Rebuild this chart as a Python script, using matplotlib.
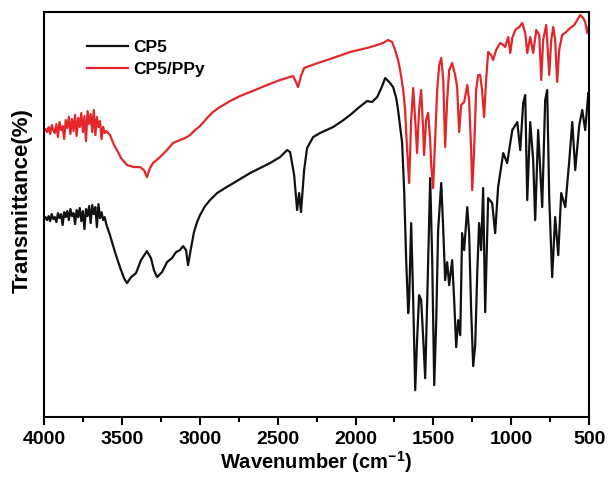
import matplotlib
matplotlib.use('Agg')
import matplotlib.pyplot as plt
from matplotlib.ticker import MultipleLocator

plt.rcParams['font.family'] = ['Liberation Sans', 'DejaVu Sans']
plt.rcParams['mathtext.fontset'] = 'custom'
plt.rcParams['mathtext.rm'] = 'Liberation Sans'
plt.rcParams['mathtext.bf'] = 'Liberation Sans:bold'

# CP5 spectrum (wavenumber in cm-1, transmittance in arbitrary units)
cp5_wn = [4000, 3990, 3980, 3970, 3960, 3950, 3940, 3930, 3920, 3910, 3900, 3890,
          3880, 3870, 3860, 3850, 3840, 3830, 3820, 3810, 3800, 3790, 3780, 3770,
          3760, 3750, 3740, 3730, 3720, 3710, 3700, 3690, 3680, 3670, 3660, 3650,
          3640, 3630, 3620, 3610, 3600,
          3576, 3544, 3512,
          3486, 3467, 3441, 3409, 3377, 3339, 3313, 3294, 3274, 3242, 3210, 3178,
          3152, 3127, 3107, 3088, 3075, 3056, 3037, 3017, 2998, 2966, 2934, 2889,
          2838, 2773, 2677, 2613, 2549, 2484, 2439, 2420, 2394, 2375, 2362, 2350,
          2330, 2311, 2272, 2228, 2144, 2086, 2035, 1983, 1926, 1894, 1861, 1829,
          1810, 1784, 1759, 1739, 1727, 1701, 1688, 1675, 1662, 1656, 1643, 1630,
          1617, 1605, 1592, 1579, 1566, 1553, 1540, 1521, 1508, 1495, 1482, 1470,
          1450, 1437, 1425, 1412, 1399, 1380, 1367, 1354, 1341, 1328, 1316, 1303,
          1283, 1271, 1258, 1245, 1232, 1219, 1207, 1194, 1181, 1168, 1149, 1123,
          1104, 1085, 1052, 1027, 994, 962, 943, 924, 911, 898, 879, 860, 847, 828,
          802, 783, 770, 757, 738, 719, 699, 680, 654, 628, 609, 590, 564, 545,
          526, 506, 500]
cp5_t = [198, 200, 197, 201, 196, 203, 198, 200, 195, 204, 199, 203,
         192, 205, 200, 206, 197, 208, 201, 204, 193, 207, 200, 209,
         196, 206, 188, 208, 201, 211, 194, 212, 203, 210, 190, 213,
         199, 205, 197, 200, 193,
         182, 165, 150,
         139, 134, 140, 144, 157, 166, 159, 147, 140, 145, 155, 159,
         165, 167, 171, 167, 152, 169, 185, 195, 202, 211, 217, 224,
         229, 235, 244, 249, 254, 260, 267, 265, 242, 207, 224, 205,
         247, 269, 280, 284, 290, 296, 302, 309, 316, 315, 320, 331,
         339, 335, 330, 319, 307, 274, 227, 157, 104, 117, 194, 117,
         27, 77, 122, 117, 80, 39, 117, 239, 157, 32, 97, 187,
         234, 187, 137, 155, 132, 157, 117, 70, 97, 82, 184, 167,
         210, 184, 107, 51, 72, 144, 194, 167, 229, 105, 219, 214,
         184, 230, 264, 254, 287, 295, 267, 314, 322, 217, 295, 257, 197, 287,
         210, 317, 327, 220, 140, 200, 162, 224, 210, 257, 295, 247, 292, 307,
         287, 324, 317]

# CP5/PPy spectrum
ppy_wn = [4000, 3990, 3980, 3970, 3960, 3950, 3940, 3930, 3920, 3910, 3900, 3890,
          3880, 3870, 3860, 3850, 3840, 3830, 3820, 3810, 3800, 3790, 3780, 3770,
          3760, 3750, 3740, 3730, 3720, 3710, 3700, 3690, 3680, 3670, 3660, 3650,
          3640, 3630, 3620, 3610, 3600,
          3576, 3550,
          3531, 3505, 3467, 3422, 3383, 3358, 3339, 3319, 3300, 3255, 3210, 3172,
          3127, 3094, 3062, 3030, 2998, 2953, 2915, 2870, 2805, 2741, 2645, 2568,
          2484, 2401, 2382, 2369, 2350, 2330, 2260, 2144, 2035, 1926, 1861, 1823,
          1791, 1765, 1746, 1727, 1714, 1694, 1682, 1669, 1656, 1643, 1630, 1617,
          1605, 1592, 1579, 1566, 1560, 1547, 1534, 1521, 1515, 1502, 1489, 1476,
          1463, 1450, 1437, 1425, 1412, 1399, 1380, 1361, 1348, 1335, 1322, 1303,
          1283, 1271, 1258, 1251, 1239, 1226, 1213, 1200, 1188, 1175, 1162, 1149,
          1130, 1117, 1098, 1072, 1052, 1040, 1020, 1007, 994, 975, 949, 930, 911,
          898, 879, 860, 840, 821, 808, 796, 776, 757, 744, 731, 719, 706, 693,
          674, 648, 622, 596, 577, 558, 539, 526, 513, 500]
ppy_t = [286, 288, 285, 290, 283, 292, 287, 284, 293, 280, 295, 287,
         291, 278, 297, 289, 300, 283, 298, 286, 302, 281, 299, 290,
         304, 285, 301, 276, 306, 293, 303, 285, 307, 282, 300, 290,
         296, 278, 290, 284, 286,
         282, 272,
         267, 259, 252, 250, 250, 247, 240, 249, 254, 260, 267, 274,
         277, 279, 282, 287, 291, 299, 305, 310, 316, 321, 327, 332,
         337, 341, 335, 330, 341, 349, 353, 359, 365, 369, 372, 374,
         377, 375, 367, 357, 347, 327, 307, 267, 234, 297, 329, 297,
         264, 307, 327, 287, 262, 297, 304, 277, 254, 229, 277, 327,
         352, 359, 337, 270, 317, 347, 354, 342, 330, 285, 312, 315,
         332, 317, 267, 227, 267, 327, 342, 342, 327, 300, 337, 365,
         362, 357, 367, 374, 372, 370, 380, 364, 379, 387, 390, 394, 384,
         364, 380, 364, 387, 382, 337, 377, 392, 342, 377, 390, 377, 335, 367,
         382, 385, 389, 392, 397, 402, 399, 395, 384, 392]

fig = plt.figure(figsize=(6.10, 4.79), dpi=100)
ax = fig.add_axes([0.072, 0.129, 0.894, 0.846])

ax.plot(cp5_wn, cp5_t, color='#111111', linewidth=1.6, label='CP5')
ax.plot(ppy_wn, ppy_t, color='#e3262a', linewidth=1.6, label='CP5/PPy')

ax.set_xlim(4000, 500)
ax.set_ylim(0, 405)
ax.xaxis.set_major_locator(MultipleLocator(500))
ax.xaxis.set_minor_locator(MultipleLocator(250))
ax.tick_params(axis='x', which='major', direction='out', length=6, width=1.5,
               labelsize=14, pad=4)
ax.tick_params(axis='x', which='minor', direction='out', length=3.5, width=1.5)
ax.set_yticks([])
for lbl in ax.get_xticklabels():
    lbl.set_fontweight('bold')
for sp in ax.spines.values():
    sp.set_linewidth(1.5)

ax.set_xlabel(r'Wavenumber (cm$^{\mathbf{-1}}$)', fontsize=14.5, fontweight='bold', labelpad=1)
ax.set_ylabel('Transmittance(%)', fontsize=16, fontweight='bold')
ax.yaxis.set_label_coords(-0.021, 0.535)

leg = ax.legend(loc='upper left', bbox_to_anchor=(0.05, 0.97), frameon=False,
                prop={'weight': 'bold', 'size': 12.5}, handlelength=2.4,
                handletextpad=0.3, labelspacing=0.4)

fig.savefig('out.png', dpi=100)
